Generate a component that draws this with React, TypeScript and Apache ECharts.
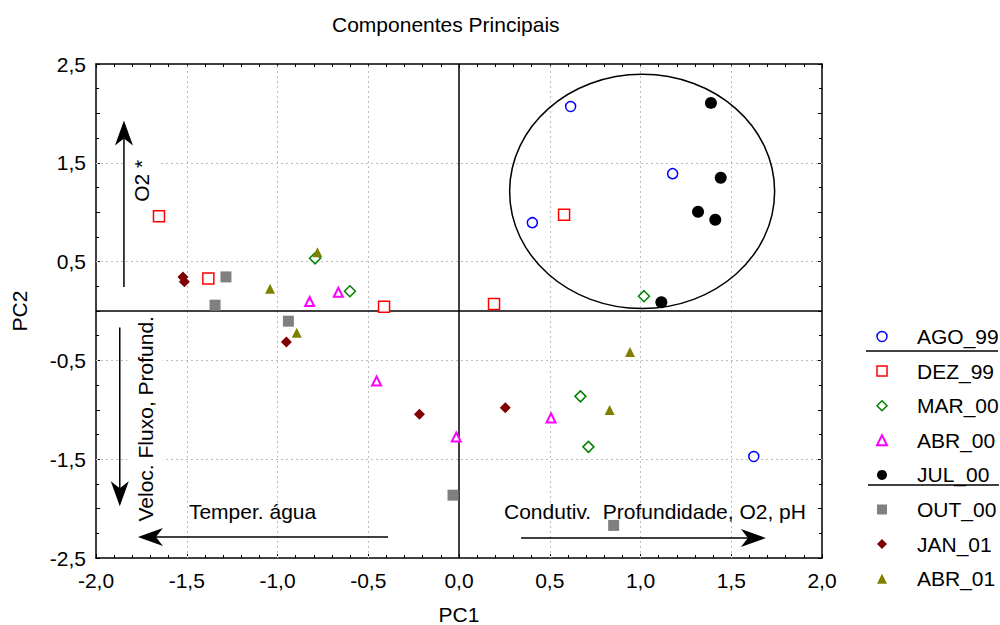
import React, { useEffect, useRef } from "react";
import * as echarts from "echarts";

const FONT = "'Liberation Sans', Arial, sans-serif";
const FS = 21;

const seriesNames = ["AGO_99", "DEZ_99", "MAR_00", "ABR_00", "JUL_00", "OUT_00", "JAN_01", "ABR_01"];

const ago99 = [[0.615, 2.07], [1.177, 1.39], [0.404, 0.894], [1.624, -1.473]];
const dez99 = [[-1.653, 0.958], [-1.381, 0.328], [-0.413, 0.042], [0.193, 0.072], [0.579, 0.975]];
const mar00 = [[-0.793, 0.533], [-0.601, 0.2], [1.019, 0.15], [0.669, -0.864], [0.713, -1.375]];
const abr00 = [[-0.823, 0.096], [-0.665, 0.19], [-0.454, -0.709], [-0.015, -1.275], [0.507, -1.083]];
const jul00 = [[1.388, 2.106], [1.442, 1.348], [1.317, 1.005], [1.412, 0.924], [1.115, 0.089]];
const out00 = [[-1.284, 0.345], [-1.344, 0.059], [-0.94, -0.103], [-0.033, -1.864], [0.852, -2.17]];
const jan01 = [[-1.521, 0.345], [-1.513, 0.295], [-0.951, -0.315], [-0.218, -1.045], [0.255, -0.978]];
const abr01 = [[-1.041, 0.224], [-0.78, 0.594], [-0.894, -0.22], [0.942, -0.416], [0.83, -1.002]];

const seriesData = [ago99, dez99, mar00, abr00, jul00, out00, jan01, abr01];

const xGridValues = [-1.5, -1.0, -0.5, 0.5, 1.0, 1.5];
const yGridValues = [-1.5, -0.5, 0.5, 1.5];

// annotation arrows (data coordinates)
const arrowDefs = [
  { from: [-1.846, 0.244], to: [-1.846, 1.927] },
  { from: [-1.869, -0.167], to: [-1.869, -1.975] },
  { from: [-0.391, -2.288], to: [-1.769, -2.288] },
  { from: [0.342, -2.298], to: [1.691, -2.298] },
];

const annotationTexts = [
  { text: "O2 *", at: [-1.747, 1.318], vertical: true },
  { text: "Veloc. Fluxo, Profund.", at: [-1.73, -1.091], vertical: true },
  { text: "Temper. água", at: [-1.488, -2.025], vertical: false },
  { text: "Condutiv.\u00a0\u00a0Profundidade, O2, pH", at: [0.248, -2.025], vertical: false },
];

const ellipseCenter = [1.009, 1.21];
const ellipseRadii = [0.73, 1.185];

type Style = { symbol: string; size: number; color: string; border: string; bw: number };
const styles: Style[] = [
  { symbol: "circle", size: 10, color: "#ffffff", border: "#0000ff", bw: 1.5 },
  { symbol: "rect", size: 11, color: "#ffffff", border: "#ff0000", bw: 1.5 },
  { symbol: "diamond", size: 11, color: "#ffffff", border: "#008000", bw: 1.5 },
  { symbol: "triangle", size: 9, color: "#ffffff", border: "#ff00ff", bw: 2 },
  { symbol: "circle", size: 12, color: "#000000", border: "#000000", bw: 0 },
  { symbol: "rect", size: 11, color: "#808080", border: "#808080", bw: 0 },
  { symbol: "diamond", size: 11, color: "#800000", border: "#800000", bw: 0 },
  { symbol: "triangle", size: 10, color: "#808000", border: "#808000", bw: 0 },
];

const fmt = (v: number) => v.toFixed(1).replace(".", ",");

export default function App() {
  const ref = useRef<HTMLDivElement>(null);

  useEffect(() => {
    if (!ref.current) return;
    const chart = echarts.init(ref.current, null, { renderer: "svg" });

    const commonX = {
      type: "value",
      min: -2,
      max: 2,
      interval: 0.5,
      splitLine: { show: false },
      axisLine: { show: true, onZero: false, lineStyle: { color: "#000", width: 1.5 } },
      axisTick: { show: true, inside: true, length: 4, lineStyle: { color: "#000", width: 1 } },
      minorTick: { show: true, splitNumber: 5, length: 3, lineStyle: { color: "#000", width: 1 } },
    };
    const commonY = {
      type: "value",
      min: -2.5,
      max: 2.5,
      interval: 0.5,
      splitLine: { show: false },
      axisLine: { show: true, onZero: false, lineStyle: { color: "#000", width: 1.5 } },
      axisTick: { show: true, inside: true, length: 4, lineStyle: { color: "#000", width: 1 } },
      minorTick: { show: true, splitNumber: 2, length: 3, lineStyle: { color: "#000", width: 1 } },
    };

    const gridLineData: any[] = [];
    xGridValues.forEach((v) =>
      gridLineData.push({ xAxis: v, lineStyle: { color: "#bdbdbd", type: [2, 3], width: 1 } })
    );
    yGridValues.forEach((v) =>
      gridLineData.push({ yAxis: v, lineStyle: { color: "#bdbdbd", type: [2, 3], width: 1 } })
    );
    gridLineData.push({ xAxis: 0, lineStyle: { color: "#000", type: "solid", width: 1.5 } });
    gridLineData.push({ yAxis: 0, lineStyle: { color: "#000", type: "solid", width: 1.5 } });

    const option: any = {
      animation: false,
      backgroundColor: "#ffffff",
      textStyle: { fontFamily: FONT },
      title: {
        text: "Componentes Principais",
        left: 332,
        top: 14,
        padding: 0,
        textStyle: { fontFamily: FONT, fontSize: FS, fontWeight: "normal", color: "#000" },
      },
      grid: {
        left: 96,
        top: 64,
        width: 726,
        height: 494,
        containLabel: false,
        outerBoundsMode: "none",
      },
      legend: {
        orient: "vertical",
        left: 876,
        top: 326,
        padding: 0,
        itemWidth: 10,
        itemHeight: 10,
        itemGap: 13.6,
        selectedMode: false,
        textStyle: { fontFamily: FONT, fontSize: FS, color: "#000", lineHeight: 20, padding: [0, 0, 0, 25] },
        data: seriesNames.map((n, i) => ({
          name: n,
          icon: styles[i].symbol,
          itemStyle: {
            color: styles[i].color,
            borderColor: styles[i].border,
            borderWidth: styles[i].bw,
          },
        })),
      },
      xAxis: [
        {
          ...commonX,
          position: "bottom",
          name: "PC1",
          nameLocation: "middle",
          nameGap: 46,
          nameTextStyle: { fontFamily: FONT, fontSize: FS, color: "#000" },
          axisLabel: { show: true, formatter: fmt, fontFamily: FONT, fontSize: FS, color: "#000", margin: 12 },
        },
        { ...commonX, position: "top", axisLabel: { show: false } },
      ],
      yAxis: [
        {
          ...commonY,
          position: "left",
          name: "PC2",
          nameLocation: "middle",
          nameRotate: 90,
          nameGap: 66,
          nameTextStyle: { fontFamily: FONT, fontSize: FS, color: "#000" },
          axisLabel: {
            show: true,
            fontFamily: FONT,
            fontSize: FS,
            color: "#000",
            margin: 10,
            formatter: (v: number) => (Math.abs(Math.round(v * 2)) % 2 === 1 ? fmt(v) : ""),
          },
        },
        { ...commonY, position: "right", axisLabel: { show: false } },
      ],
      series: [
        {
          type: "scatter",
          name: "__grid",
          xAxisIndex: 0,
          yAxisIndex: 0,
          data: [],
          z: 1,
          silent: true,
          markLine: {
            silent: true,
            z: 1,
            symbol: "none",
            label: { show: false },
            data: gridLineData,
          },
        },
        ...seriesNames.map((n, i) => ({
          type: "scatter",
          name: n,
          xAxisIndex: 0,
          yAxisIndex: 0,
          z: 3,
          symbol: styles[i].symbol,
          symbolSize: styles[i].size,
          itemStyle: {
            color: styles[i].color,
            borderColor: styles[i].border,
            borderWidth: styles[i].bw,
            opacity: 1,
          },
          data: seriesData[i],
        })),
      ],
    };

    chart.setOption(option);

    const toPx = (p: number[]) =>
      chart.convertToPixel({ xAxisIndex: 0, yAxisIndex: 0 } as any, p) as number[];

    const graphics: any[] = [];

    // annotation texts
    annotationTexts.forEach((t) => {
      const p = toPx(t.at);
      const style: any = {
        text: t.text,
        fontFamily: FONT,
        fontSize: FS,
        fill: "#000",
        align: t.vertical ? "center" : "left",
        verticalAlign: "middle",
      };
      if (t.vertical) {
        style.backgroundColor = "#fff";
        style.padding = [7, 0, 7, 0];
      }
      graphics.push({
        type: "text",
        x: p[0],
        y: p[1],
        rotation: t.vertical ? Math.PI / 2 : 0,
        z: 2,
        silent: true,
        style,
      });
    });

    // arrows
    const L = 25, W = 9, N = 18;
    arrowDefs.forEach((a) => {
      const f = toPx(a.from);
      const t = toPx(a.to);
      const dx = t[0] - f[0], dy = t[1] - f[1];
      const len = Math.hypot(dx, dy);
      const ux = dx / len, uy = dy / len;
      const nx = -uy, ny = ux;
      graphics.push({
        type: "line",
        z: 4,
        silent: true,
        shape: { x1: f[0], y1: f[1], x2: t[0] - ux * N, y2: t[1] - uy * N },
        style: { stroke: "#000", lineWidth: 1.5 },
      });
      graphics.push({
        type: "polygon",
        z: 4,
        silent: true,
        shape: {
          points: [
            [t[0], t[1]],
            [t[0] - ux * L + nx * W, t[1] - uy * L + ny * W],
            [t[0] - ux * N, t[1] - uy * N],
            [t[0] - ux * L - nx * W, t[1] - uy * L - ny * W],
          ],
        },
        style: { fill: "#000" },
      });
    });

    // ellipse
    const c = toPx(ellipseCenter);
    const e = toPx([ellipseCenter[0] + ellipseRadii[0], ellipseCenter[1] + ellipseRadii[1]]);
    graphics.push({
      type: "ellipse",
      z: 4,
      silent: true,
      shape: { cx: c[0], cy: c[1], rx: Math.abs(e[0] - c[0]), ry: Math.abs(e[1] - c[1]) },
      style: { fill: "none", stroke: "#000", lineWidth: 1.5 },
    });

    // legend separators
    graphics.push({
      type: "line",
      silent: true,
      shape: { x1: 866, y1: 351, x2: 998, y2: 351 },
      style: { stroke: "#000", lineWidth: 1.5 },
    });
    graphics.push({
      type: "line",
      silent: true,
      shape: { x1: 868, y1: 485, x2: 999, y2: 485 },
      style: { stroke: "#000", lineWidth: 1.5 },
    });

    chart.setOption({ graphic: graphics });

    return () => {
      chart.dispose();
    };
  }, []);

  return (
    <div
      ref={ref}
      style={{ position: "absolute", left: 0, top: 0, width: 1000, height: 625, background: "#fff" }}
    />
  );
}
